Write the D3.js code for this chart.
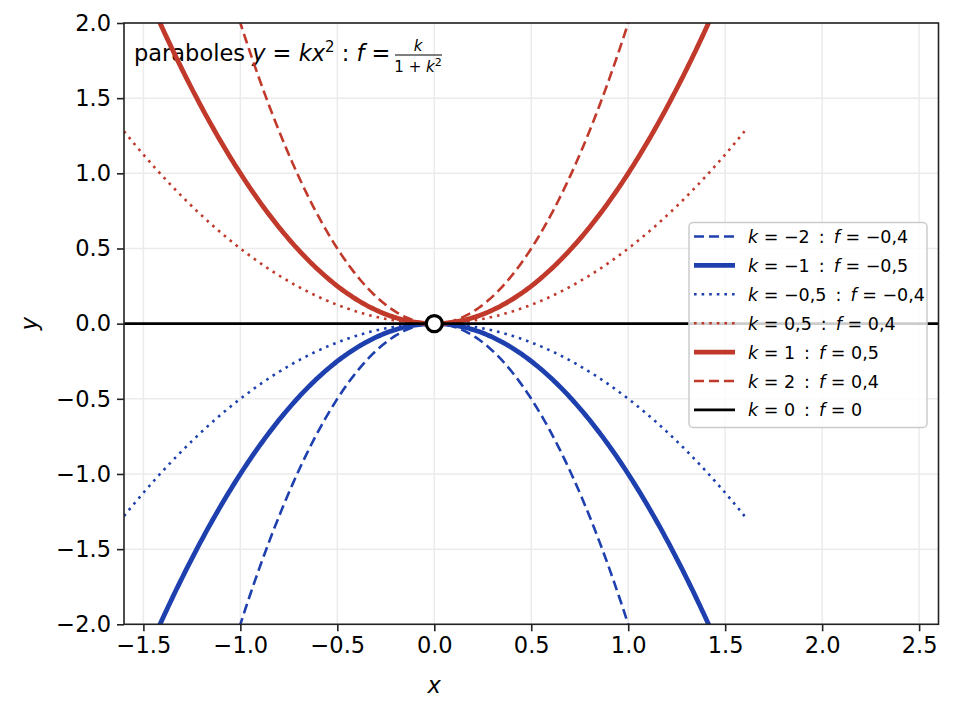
<!DOCTYPE html>
<html>
<head>
<meta charset="utf-8">
<script src="https://cdn.jsdelivr.net/npm/d3@7"></script>
<style>
  body { margin: 0; background: #fff; }
  svg { font-family: "DejaVu Sans", sans-serif; }
  text { white-space: pre; }
</style>
</head>
<body>
<div id="chart"></div>
<script>
// Data
const kValues = [-2, -1, -0.5, 0.5, 1, 2];
const fLabels = ["\u22120,4", "\u22120,5", "\u22120,4", "0,4", "0,5", "0,4"];
const kLabels = ["\u22122", "\u22121", "\u22120,5", "0,5", "1", "2"];
const xTicks = [-1.5, -1.0, -0.5, 0.0, 0.5, 1.0, 1.5, 2.0, 2.5];
const yTicks = [-2.0, -1.5, -1.0, -0.5, 0.0, 0.5, 1.0, 1.5, 2.0];
const xDomain = [-1.6, 2.6];
const yDomain = [-2, 2];
const curveRange = [-1.6, 1.6];

// Styles
const RED = "#c0392b", BLUE = "#1e40af";
const styleFor = k => {
    const color = k < 0 ? BLUE : RED;
    const a = Math.abs(k);
    if (a === 1) return { color, width: 4.8, dash: null };
    if (a === 2) return { color, width: 2.6, dash: "10,5" };
    return { color, width: 2.6, dash: "2.6,5" };
};

const W = 953, H = 713;
const m = { left: 124, right: 953 - 938.5, top: 23, bottom: 713 - 624.3 };

const svg = d3.select("#chart").append("svg")
    .attr("width", W).attr("height", H);

const x = d3.scaleLinear().domain(xDomain).range([m.left, W - m.right]);
const y = d3.scaleLinear().domain(yDomain).range([H - m.bottom, m.top]);

const fmt = v => d3.format(".1f")(v).replace("-", "\u2212");

// Grid
const grid = svg.append("g").attr("stroke", "#ebebeb").attr("stroke-width", 1.5);
grid.selectAll(".gx").data(xTicks).enter().append("line")
    .attr("x1", d => x(d)).attr("x2", d => x(d))
    .attr("y1", y.range()[0]).attr("y2", y.range()[1]);
grid.selectAll(".gy").data(yTicks).enter().append("line")
    .attr("y1", d => y(d)).attr("y2", d => y(d))
    .attr("x1", x.range()[0]).attr("x2", x.range()[1]);

// Title
const title = svg.append("text")
    .attr("x", 134).attr("y", 61)
    .style("font-size", "22.5px").attr("fill", "#000");
title.append("tspan").text("paraboles ");
title.append("tspan").style("font-style", "italic").text("y");
title.append("tspan").text(" = ");
title.append("tspan").style("font-style", "italic").text("kx");
title.append("tspan").attr("dy", -9).style("font-size", "15px").text("2");
title.append("tspan").attr("dy", 9).text(" : ");
title.append("tspan").style("font-style", "italic").text("f");
title.append("tspan").text(" =");
// fraction
svg.append("text").attr("x", 418).attr("y", 51).attr("text-anchor", "middle")
    .style("font-size", "15px").style("font-style", "italic").text("k");
svg.append("line").attr("x1", 395).attr("x2", 442).attr("y1", 55).attr("y2", 55)
    .attr("stroke", "#000").attr("stroke-width", 1);
const den = svg.append("text").attr("x", 418).attr("y", 72).attr("text-anchor", "middle")
    .style("font-size", "15px");
den.append("tspan").text("1 + ");
den.append("tspan").style("font-style", "italic").text("k");
den.append("tspan").attr("dy", -6).style("font-size", "11px").text("2");

// Clip
svg.append("clipPath").attr("id", "clip").append("rect")
    .attr("x", m.left).attr("y", m.top)
    .attr("width", x.range()[1] - m.left).attr("height", y.range()[0] - m.top);

const plot = svg.append("g").attr("clip-path", "url(#clip)");

const line = d3.line().x(d => x(d[0])).y(d => y(d[1]));
const xs = d3.range(curveRange[0], curveRange[1] + 1e-9, 0.01);

plot.selectAll(".curve").data(kValues).enter().append("path")
    .attr("class", "curve")
    .attr("fill", "none")
    .attr("stroke", d => styleFor(d).color)
    .attr("stroke-width", d => styleFor(d).width)
    .attr("stroke-dasharray", d => styleFor(d).dash)
    .attr("d", k => line(xs.map(v => [v, k * v * v])));

// k = 0
plot.append("path")
    .attr("fill", "none").attr("stroke", "#000").attr("stroke-width", 2.6)
    .attr("d", line([[xDomain[0], 0], [xDomain[1], 0]]));

plot.append("circle")
    .attr("cx", x(0)).attr("cy", y(0)).attr("r", 8)
    .attr("fill", "#fff").attr("stroke", "#000").attr("stroke-width", 3.2);

// Axes
const xAxis = svg.append("g")
    .attr("transform", `translate(0,${y.range()[0]})`)
    .call(d3.axisBottom(x).tickValues(xTicks).tickFormat(fmt).tickSize(7).tickPadding(6));
const yAxis = svg.append("g")
    .attr("transform", `translate(${m.left},0)`)
    .call(d3.axisLeft(y).tickValues(yTicks).tickFormat(fmt).tickSize(7).tickPadding(6));
[xAxis, yAxis].forEach(a => {
    a.selectAll("text").style("font-size", "22.5px").style("font-family", "DejaVu Sans").attr("fill", "#000");
    a.selectAll("line").attr("stroke", "#222").attr("stroke-width", 1.6);
    a.select(".domain").remove();
});

svg.append("rect")
    .attr("x", m.left).attr("y", m.top)
    .attr("width", x.range()[1] - m.left).attr("height", y.range()[0] - m.top)
    .attr("fill", "none").attr("stroke", "#222").attr("stroke-width", 1.6);

// Axis labels
svg.append("text").attr("x", x(0)).attr("y", 693).attr("text-anchor", "middle")
    .style("font-size", "22.5px").style("font-style", "italic").text("x");
svg.append("text").attr("transform", `translate(37,${y(0)}) rotate(-90)`)
    .attr("text-anchor", "middle")
    .style("font-size", "22.5px").style("font-style", "italic").text("y");

// Legend
const legendItems = kValues.map((k, i) => ({ k, kl: kLabels[i], fl: fLabels[i], s: styleFor(k) }))
    .concat([{ k: 0, kl: "0", fl: "0", s: { color: "#000", width: 2.6, dash: null } }]);

const lg = svg.append("g");
lg.append("rect")
    .attr("x", 689).attr("y", 222.5).attr("width", 238).attr("height", 205)
    .attr("rx", 4).attr("fill", "#fff").attr("fill-opacity", 0.8)
    .attr("stroke", "#cccccc").attr("stroke-width", 1.5);

const rows = lg.selectAll(".row").data(legendItems).enter().append("g")
    .attr("transform", (d, i) => `translate(0,${236.5 + i * 28.9})`);
rows.append("line")
    .attr("x1", 694).attr("x2", 735)
    .attr("stroke", d => d.s.color)
    .attr("stroke-width", d => d.s.width)
    .attr("stroke-dasharray", d => d.s.dash);
const lt = rows.append("text").attr("x", 748).attr("y", 6.5)
    .style("font-size", "17.5px").attr("fill", "#000");
lt.append("tspan").style("font-style", "italic").text("k");
lt.append("tspan").text(d => " = " + d.kl + "\u2009 :\u2009 ");
lt.append("tspan").style("font-style", "italic").text("f");
lt.append("tspan").text(d => " = " + d.fl);
</script>
</body>
</html>
